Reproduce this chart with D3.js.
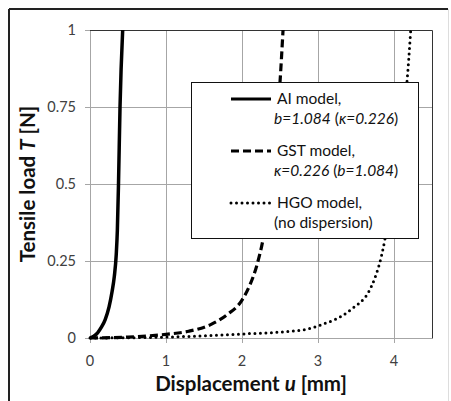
<!DOCTYPE html>
<html>
<head>
<meta charset="utf-8">
<script src="https://cdn.jsdelivr.net/npm/d3@7"></script>
<style>
  body { margin: 0; background: #fff; }
  text { font-family: Lato, "Open Sans", sans-serif; }
</style>
</head>
<body>
<div id="chart"></div>
<script>
// tick values
var xTicks = [0, 1, 2, 3, 4];
var yTicks = [0, 0.25, 0.5, 0.75, 1];
var yTickLabels = ["0", "0.25", "0.5", "0.75", "1"];

// AI model (solid)
var aiU = [0, 0.05, 0.1, 0.15, 0.2, 0.25, 0.29, 0.32, 0.345, 0.36, 0.375, 0.395, 0.43];
var aiT = [0, 0.006, 0.017, 0.035, 0.06, 0.1, 0.15, 0.2, 0.27, 0.35, 0.5, 0.75, 1];

// GST model (dashed)
var gstU = [0, 0.5, 1, 1.3, 1.6, 1.8, 2, 2.1, 2.2, 2.28, 2.4, 2.5, 2.54];
var gstT = [0, 0.003, 0.012, 0.022, 0.045, 0.075, 0.123, 0.17, 0.24, 0.325, 0.55, 0.83, 1];

// HGO model (dotted)
var hgoU = [0, 1, 2, 2.8, 3.03, 3.42, 3.7, 3.88, 4.0, 4.1, 4.17, 4.22];
var hgoT = [0, 0.003, 0.013, 0.026, 0.042, 0.09, 0.166, 0.32, 0.52, 0.7, 0.83, 1];

function main() {
   var svg = d3.select("#chart").append("svg")
      .attr("width", 451)
      .attr("height", 401);

   // outer frame
   svg.append("line").attr("x1", 9).attr("y1", 9).attr("x2", 448).attr("y2", 9)
      .attr("stroke", "#222").attr("stroke-width", 2);
   svg.append("line").attr("x1", 9).attr("y1", 9).attr("x2", 9).attr("y2", 401)
      .attr("stroke", "#222").attr("stroke-width", 2);
   svg.append("line").attr("x1", 448.5).attr("y1", 9).attr("x2", 448.5).attr("y2", 401)
      .attr("stroke", "#ddd").attr("stroke-width", 1);

   var x = d3.scaleLinear().domain([0, 4.5]).range([90, 432]);
   var y = d3.scaleLinear().domain([0, 1]).range([338, 30]);

   //gridlines
   svg.append("g").selectAll("line")
      .data(xTicks)
      .enter().append("line")
         .attr("x1", function(d) { return Math.round(x(d)) + 0.5; })
         .attr("x2", function(d) { return Math.round(x(d)) + 0.5; })
         .attr("y1", y(0) + 5)
         .attr("y2", y(1))
         .attr("stroke", "#a6a6a6");
   svg.append("g").selectAll("line")
      .data(yTicks)
      .enter().append("line")
         .attr("x1", x(0) - 5)
         .attr("x2", x(4.5))
         .attr("y1", function(d) { return Math.round(y(d)) + 0.5; })
         .attr("y2", function(d) { return Math.round(y(d)) + 0.5; })
         .attr("stroke", "#a6a6a6");

   // plot border top + right
   svg.append("path")
      .attr("d", "M" + x(0) + "," + (y(1) + 0.5) + "H" + (x(4.5) + 0.5) + "V" + (y(0) + 0.5))
      .attr("fill", "none")
      .attr("stroke", "#333");

   // tick labels
   svg.append("g").selectAll("text")
      .data(xTicks)
      .enter().append("text")
         .attr("x", function(d) { return x(d); })
         .attr("y", 366)
         .attr("text-anchor", "middle")
         .attr("font-size", 14.5)
         .attr("fill", "#404040")
         .text(function(d) { return d; });
   svg.append("g").selectAll("text")
      .data(yTicks)
      .enter().append("text")
         .attr("x", 76)
         .attr("y", function(d) { return y(d) + 5; })
         .attr("text-anchor", "end")
         .attr("font-size", 14.5)
         .attr("fill", "#404040")
         .text(function(d, i) { return yTickLabels[i]; });

   // axis titles
   var xt = svg.append("text")
      .attr("x", 251)
      .attr("y", 391)
      .attr("text-anchor", "middle")
      .attr("font-size", 20.5)
      .attr("font-weight", "bold")
      .attr("fill", "#111");
   xt.append("tspan").text("Displacement ");
   xt.append("tspan").attr("font-style", "italic").text("u");
   xt.append("tspan").text(" [mm]");

   var yt = svg.append("text")
      .attr("transform", "translate(35,184) rotate(-90)")
      .attr("text-anchor", "middle")
      .attr("font-size", 20.5)
      .attr("font-weight", "bold")
      .attr("fill", "#111");
   yt.append("tspan").text("Tensile load ");
   yt.append("tspan").attr("font-style", "italic").text("T");
   yt.append("tspan").text(" [N]");

   var line = d3.line()
      .x(function(d) { return x(d[0]); })
      .y(function(d) { return y(d[1]); })
      .curve(d3.curveMonotoneX);

   svg.append("path")
      .datum(d3.zip(hgoU, hgoT))
      .attr("d", line)
      .attr("fill", "none")
      .attr("stroke", "#000")
      .attr("stroke-width", 3)
      .attr("stroke-linecap", "round")
      .attr("stroke-dasharray", "0,5.5");
   svg.append("path")
      .datum(d3.zip(gstU, gstT))
      .attr("d", line)
      .attr("fill", "none")
      .attr("stroke", "#000")
      .attr("stroke-width", 3.2)
      .attr("stroke-dasharray", "8,4");
   svg.append("path")
      .datum(d3.zip(aiU, aiT))
      .attr("d", line)
      .attr("fill", "none")
      .attr("stroke", "#000")
      .attr("stroke-width", 3.5);

   //legend
   svg.append("rect")
      .attr("x", 191.5).attr("y", 82.5)
      .attr("width", 227).attr("height", 156)
      .attr("fill", "#fff")
      .attr("stroke", "#111");

   var items = [
      {dash: null, y: 99, l1: [["AI model,", false]], l2: [["b=1.084", true], [" (", false], ["κ=0.226", true], [")", false]]},
      {dash: "8,4", y: 151, l1: [["GST model,", false]], l2: [["κ=0.226", true], [" (", false], ["b=1.084", true], [")", false]]},
      {dash: "0,5.5", y: 203, l1: [["HGO model,", false]], l2: [["(no dispersion)", false]]}
   ];

   items.forEach(function(it) {
      var s = svg.append("line")
         .attr("x1", 231).attr("x2", 271)
         .attr("y1", it.y).attr("y2", it.y)
         .attr("stroke", "#000")
         .attr("stroke-width", it.dash == "0,5.5" ? 3 : 3.2);
      if (it.dash) s.attr("stroke-dasharray", it.dash);
      if (it.dash == "0,5.5") s.attr("stroke-linecap", "round");

      var t1 = svg.append("text")
         .attr("x", 277).attr("y", it.y + 5)
         .attr("font-size", 15.5).attr("fill", "#111");
      it.l1.forEach(function(p) {
         t1.append("tspan").attr("font-style", p[1] ? "italic" : "normal").text(p[0]);
      });
      var t2 = svg.append("text")
         .attr("x", 274).attr("y", it.y + 25)
         .attr("font-size", 15.5).attr("fill", "#111");
      it.l2.forEach(function(p) {
         t2.append("tspan").attr("font-style", p[1] ? "italic" : "normal").text(p[0]);
      });
   });
}

main();
</script>
</body>
</html>
